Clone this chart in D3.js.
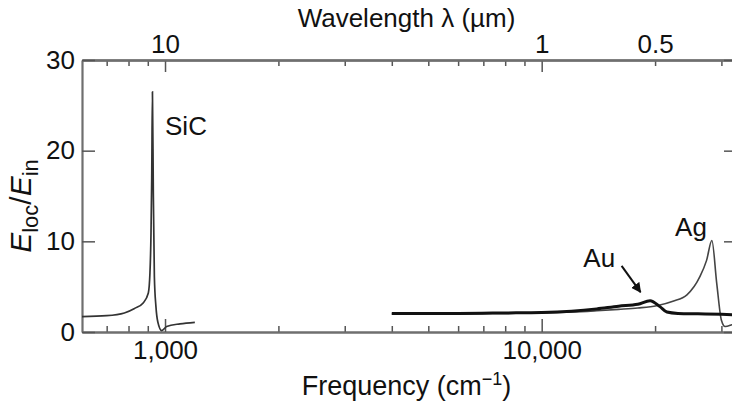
<!DOCTYPE html>
<html>
<head>
<meta charset="utf-8">
<script src="https://cdn.jsdelivr.net/npm/d3@7"></script>
<style>
  body { margin: 0; background: #fff; }
  #c { width: 732px; height: 406px; overflow: hidden; }
  text { font-family: "Liberation Sans", Arial, Helvetica, sans-serif; fill: #111; }
</style>
</head>
<body>
<div id="c"></div>
<script>
"use strict";

// frequency (cm-1), field enhancement E_loc/E_in
const sicData = [
    [602,1.7],[700,1.8],[780,2.1],[830,2.6],[875,3.2],[903,4.3],[912,6.5],[918,11],[922,17],
    [926,26.5],[931,15.3],[937,6.1],[946,2.8],[957,1.1],[980,0.15],[1010,0.6],[1096,0.9],[1200,1.07]
]
const auData = [
    [4000,2.05],[6000,2.05],[8000,2.1],[10000,2.15],[12000,2.3],[14000,2.55],[16000,2.85],
    [18000,3.05],[19400,3.45],[20600,2.8],[21500,2.2],[23000,2.05],[26000,2.0],[30000,1.95],[33000,1.9]
]
const agData = [
    [4000,2.0],[6000,2.0],[8000,2.05],[10000,2.1],[12000,2.2],[14000,2.35],[16000,2.5],[18000,2.65],
    [20200,2.9],[22300,3.4],[24300,4.1],[26300,6.1],[27400,7.9],[28300,10.1],[29150,5.4],
    [30000,1.3],[30700,0.6],[32000,0.8],[33000,1.0]
]

const freqMajorTicks = [1000, 10000]
const freqMinorTicks = [700,800,900,2000,3000,4000,5000,6000,7000,8000,9000,20000,30000]
const wavelengthLabels = [10, 1, 0.5]   // micrometres
const yTicks = [0, 10, 20, 30]

const freqDomain = [602, 33000]
const yDomain = [0, 30]

let svg, xScale, yScale, width, height

window.onload = function() {
    createChart()
    drawCurves()
    drawLabels()
}

function createChart() {
    const margin = {top: 60, right: -5, bottom: 74, left: 82}
    width = 732 - margin.left - margin.right
    height = 406 - margin.top - margin.bottom

    let mainSvg = d3.select('#c').append('svg')
        .attr('width', 732).attr('height', 406)
    svg = mainSvg.append('g')
        .attr('transform', 'translate(' + margin.left + ',' + margin.top + ')')

    xScale = d3.scaleLog().domain(freqDomain).range([0, width])
    yScale = d3.scaleLinear().domain(yDomain).range([height, 0])

    svg.append('clipPath').attr('id', 'plot-clip')
        .append('rect').attr('width', width).attr('height', height)

    // bottom axis: minor, then major with labels
    svg.append('g').attr('class', 'axis')
        .attr('transform', 'translate(0,' + height + ')')
        .call(d3.axisBottom(xScale).tickValues(freqMinorTicks)
            .tickSize(-6).tickSizeOuter(0).tickFormat(''))
    svg.append('g').attr('class', 'axis')
        .attr('transform', 'translate(0,' + height + ')')
        .call(d3.axisBottom(xScale).tickValues(freqMajorTicks)
            .tickSize(-13).tickSizeOuter(0).tickPadding(9)
            .tickFormat(d3.format(',')))

    // top axis: wavelength = 1e4 / frequency
    svg.append('g').attr('class', 'axis')
        .call(d3.axisTop(xScale).tickValues(freqMinorTicks)
            .tickSize(-6).tickSizeOuter(0).tickFormat(''))
    svg.append('g').attr('class', 'axis')
        .call(d3.axisTop(xScale).tickValues(freqMajorTicks)
            .tickSize(-12).tickSizeOuter(0).tickFormat(''))
    svg.append('g').attr('class', 'axis')
        .call(d3.axisTop(xScale).tickValues(wavelengthLabels.map(l => 1e4 / l))
            .tickSize(0).tickSizeOuter(0).tickPadding(7)
            .tickFormat(d => d3.format('')(+(1e4 / d).toPrecision(3))))

    svg.append('g').attr('class', 'axis')
        .call(d3.axisLeft(yScale).tickValues(yTicks)
            .tickSize(-13).tickSizeOuter(0).tickPadding(7))
    svg.append('g').attr('class', 'axis')
        .attr('transform', 'translate(' + width + ',0)')
        .call(d3.axisRight(yScale).tickValues(yTicks)
            .tickSize(-13).tickSizeOuter(0).tickFormat(''))

    svg.selectAll('.axis .domain')
        .attr('stroke', '#6f6f6f').attr('stroke-width', 2.2)
    svg.selectAll('.axis .tick line')
        .attr('stroke', '#555').attr('stroke-width', 1.5)
    svg.selectAll('.axis text')
        .attr('fill', '#111')
        .style('font-size', '26px')
        .style('font-family', '"Liberation Sans", Arial, sans-serif')

    // titles
    mainSvg.append('text')
        .attr('x', margin.left + width / 2 - 3).attr('y', 27)
        .attr('text-anchor', 'middle')
        .style('font-size', '26px')
        .text('Wavelength λ (µm)')

    let ft = mainSvg.append('text')
        .attr('x', margin.left + width / 2 - 3).attr('y', 395)
        .attr('text-anchor', 'middle')
        .style('font-size', '27px')
    ft.append('tspan').text('Frequency (cm')
    ft.append('tspan').text('−1').attr('dy', -10).style('font-size', '18px')
    ft.append('tspan').text(')').attr('dy', 10)

    let yt = mainSvg.append('text')
        .attr('transform', 'translate(31,' + (margin.top + yScale(13.9)) + ') rotate(-90)')
        .attr('text-anchor', 'middle')
        .style('font-size', '30px')
    yt.append('tspan').text('E').style('font-style', 'italic')
    yt.append('tspan').text('loc').attr('dy', 7).style('font-size', '22px')
    yt.append('tspan').text('/').attr('dy', -7)
    yt.append('tspan').text('E').style('font-style', 'italic')
    yt.append('tspan').text('in').attr('dy', 7).style('font-size', '22px')
}

function drawCurves() {
    let line = d3.line()
        .x(d => xScale(d[0]))
        .y(d => yScale(d[1]))
        .curve(d3.curveMonotoneX)

    let g = svg.append('g').attr('clip-path', 'url(#plot-clip)')
    g.append('path').datum(sicData)
        .attr('fill', 'none').attr('stroke', '#333').attr('stroke-width', 1.7)
        .attr('d', line)
    g.append('path').datum(agData)
        .attr('fill', 'none').attr('stroke', '#444').attr('stroke-width', 1.6)
        .attr('d', line)
    g.append('path').datum(auData)
        .attr('fill', 'none').attr('stroke', '#111').attr('stroke-width', 3)
        .attr('d', line)
}

function drawLabels() {
    const fs = '26px'
    svg.append('text')
        .attr('x', xScale(1000)).attr('y', yScale(21.7))
        .style('font-size', fs).text('SiC')
    svg.append('text')
        .attr('x', xScale(12900)).attr('y', yScale(7.2))
        .style('font-size', fs).text('Au')
    svg.append('text')
        .attr('x', xScale(22600)).attr('y', yScale(10.6))
        .style('font-size', fs).text('Ag')

    // arrow from Au label to its peak
    svg.append('defs').append('marker')
        .attr('id', 'arrow')
        .attr('viewBox', '0 0 10 10')
        .attr('refX', 9).attr('refY', 5)
        .attr('markerWidth', 5).attr('markerHeight', 5)
        .attr('markerUnits', 'strokeWidth')
        .attr('orient', 'auto')
        .append('path').attr('d', 'M0,0 L10,5 L0,10 z').attr('fill', '#111')
    svg.append('line')
        .attr('x1', xScale(16300)).attr('y1', yScale(7.3))
        .attr('x2', xScale(18300)).attr('y2', yScale(4.4))
        .attr('stroke', '#111').attr('stroke-width', 2)
        .attr('marker-end', 'url(#arrow)')
}
</script>
</body>
</html>
